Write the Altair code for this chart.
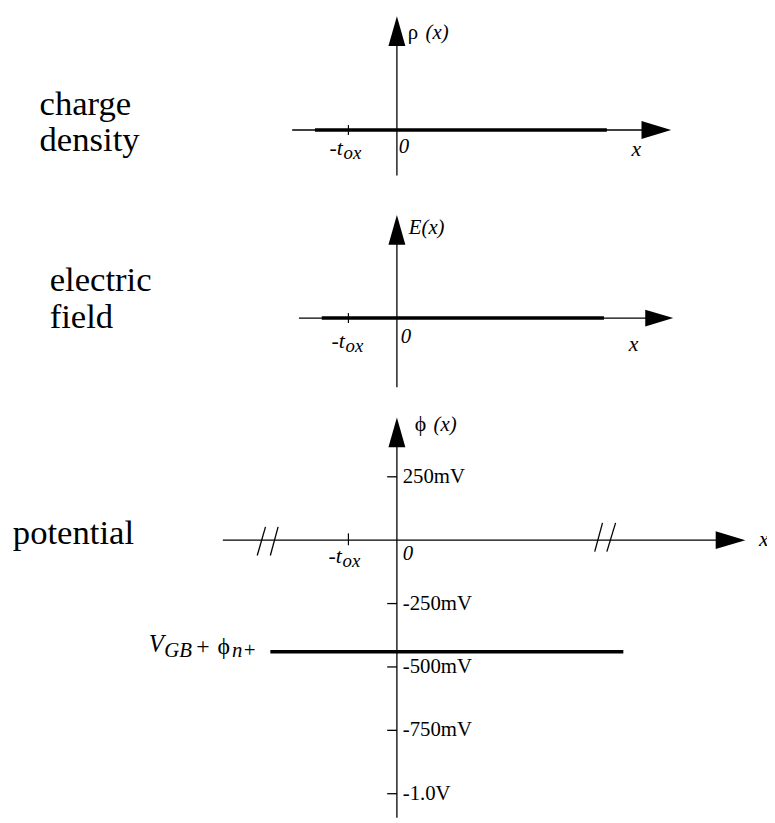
import altair as alt
import pandas as pd

# ---------------- layout (pixels of the drawing area) ----------------
W, H = 767, 815
PX_PER_TOX = 49.0
ZERO_X_PX = 393.0
X_DOMAIN = [-ZERO_X_PX / PX_PER_TOX, (W - ZERO_X_PX) / PX_PER_TOX]

def y_domain(zero_px, px_per_unit):
    return [-(H - zero_px) / px_per_unit, zero_px / px_per_unit]

P1_DOM = y_domain(119.0, 10.0)      # charge density, arbitrary units
P2_DOM = y_domain(309.0, 10.0)      # electric field, arbitrary units
P3_DOM = y_domain(533.5, 0.2562)    # potential, mV

SERIF = "Liberation Serif, Times New Roman, Times, serif"
UP_ARROW = "M0,-1L0.57,1L-0.57,1Z"
RIGHT_ARROW = "M1,0L-1,0.6L-1,-0.6Z"

# ---------------- data (x in units of t_ox) ----------------
T_OX = -1.0

# charge density panel
rho_axis_x = [-2.16, 5.35]
rho_axis_y = [-4.6, 10.0]
rho_x = [-1.69, 4.33]
rho_val = [0.0, 0.0]

# electric field panel
e_axis_x = [-2.02, 5.41]
e_axis_y = [-7.0, 8.9]
e_x = [-1.55, 4.27]
e_val = [0.0, 0.0]

# potential panel (mV)
phi_axis_x = [-3.59, 6.88]
phi_axis_y = [-1095.0, 425.5]
phi_ticks = [250, -250, -500, -750, -1000]
phi_tick_labels = ["250mV", "-250mV", "-500mV", "-750mV", "-1.0V"]
v_level_mV = -440.0
v_x = [-2.61, 4.67]
break_x0 = [-2.88, -2.61, 4.08, 4.33]
break_x1 = [-2.71, -2.45, 4.24, 4.51]
break_y0 = [-60.5, -60.5, -44.9, -44.9]
break_y1 = [52.7, 52.7, 68.3, 68.3]


def xs():
    return alt.Scale(domain=X_DOMAIN, nice=False, zero=False)


def ys(d):
    return alt.Scale(domain=d, nice=False, zero=False)


def hrule(x0, x1, y, dom, sw):
    df = pd.DataFrame({"x0": x0, "x1": x1, "y": y})
    return alt.Chart(df).mark_rule(strokeWidth=sw, color="black").encode(
        x=alt.X("x0:Q", scale=xs(), axis=None), x2="x1:Q",
        y=alt.Y("y:Q", scale=ys(dom), axis=None))


def vrule(x, y0, y1, dom, sw):
    df = pd.DataFrame({"x": x, "y0": y0, "y1": y1})
    return alt.Chart(df).mark_rule(strokeWidth=sw, color="black").encode(
        x=alt.X("x:Q", scale=xs(), axis=None),
        y=alt.Y("y0:Q", scale=ys(dom), axis=None), y2="y1:Q")


def drule(x0, x1, y0, y1, dom, sw):
    df = pd.DataFrame({"x0": x0, "x1": x1, "y0": y0, "y1": y1})
    return alt.Chart(df).mark_rule(strokeWidth=sw, color="black").encode(
        x=alt.X("x0:Q", scale=xs(), axis=None), x2="x1:Q",
        y=alt.Y("y0:Q", scale=ys(dom), axis=None), y2="y1:Q")


def arrow(x, y, dom, shape, size=900):
    df = pd.DataFrame({"x": [x], "y": [y]})
    return alt.Chart(df).mark_point(shape=shape, size=size, filled=True,
                                    opacity=1, color="black", strokeWidth=0).encode(
        x=alt.X("x:Q", scale=xs(), axis=None),
        y=alt.Y("y:Q", scale=ys(dom), axis=None))


def text(x, y, t, dom, size, italic=False, baseline="alphabetic", align="left"):
    df = pd.DataFrame({"x": x, "y": y, "t": t})
    return alt.Chart(df).mark_text(align=align, baseline=baseline, fontSize=size,
                                   font=SERIF, color="black",
                                   fontStyle="italic" if italic else "normal").encode(
        x=alt.X("x:Q", scale=xs(), axis=None),
        y=alt.Y("y:Q", scale=ys(dom), axis=None),
        text="t:N")


layers = []

# ---- panel 1: charge density ----
D = P1_DOM
layers += [
    hrule([rho_axis_x[0]], [rho_axis_x[1]], [0.0], D, 1.3),
    vrule([0.0], [rho_axis_y[0]], [rho_axis_y[1]], D, 1.3),
    arrow(0.0, rho_axis_y[1], D, UP_ARROW),
    arrow(rho_axis_x[1], 0.0, D, RIGHT_ARROW),
    hrule([rho_x[0]], [rho_x[1]], [rho_val[0]], D, 3.5),
    vrule([T_OX], [-0.5], [0.5], D, 1.2),
    text([0.224], [9.2], ["ρ"], D, 21),
    text([0.59], [9.2], ["(x)"], D, 21, italic=True),
    text([-1.39], [-2.5], ["-t"], D, 22, italic=True),
    text([-1.1], [-2.9], ["ox"], D, 19, italic=True),
    text([0.04], [-2.3], ["0"], D, 21, italic=True),
    text([4.84], [-2.6], ["x"], D, 22, italic=True),
    text([-7.37, -7.37], [1.5, -2.1], ["charge", "density"], D, 35),
]

# ---- panel 2: electric field ----
D = P2_DOM
layers += [
    hrule([e_axis_x[0]], [e_axis_x[1]], [0.0], D, 1.3),
    vrule([0.0], [e_axis_y[0]], [e_axis_y[1]], D, 1.3),
    arrow(0.0, e_axis_y[1], D, UP_ARROW),
    arrow(e_axis_x[1], 0.0, D, RIGHT_ARROW, size=800),
    hrule([e_x[0]], [e_x[1]], [e_val[0]], D, 3.5),
    vrule([T_OX], [-0.5], [0.5], D, 1.2),
    text([0.245], [8.5], ["E(x)"], D, 21, italic=True),
    text([-1.35], [-3.0], ["-t"], D, 22, italic=True),
    text([-1.06], [-3.4], ["ox"], D, 19, italic=True),
    text([0.08], [-2.5], ["0"], D, 21, italic=True),
    text([4.78], [-3.3], ["x"], D, 22, italic=True),
    text([-7.16, -7.16], [2.7, -1.0], ["electric", "field"], D, 35),
]

# ---- panel 3: potential ----
D = P3_DOM
layers += [
    hrule([phi_axis_x[0]], [phi_axis_x[1]], [0.0], D, 1.3),
    vrule([0.0], [phi_axis_y[0]], [phi_axis_y[1]], D, 1.3),
    arrow(0.0, phi_axis_y[1], D, UP_ARROW),
    arrow(phi_axis_x[1], 0.0, D, RIGHT_ARROW),
    drule(break_x0, break_x1, break_y0, break_y1, D, 1.3),
    vrule([T_OX], [27.0], [-20.0], D, 1.2),
    hrule([-0.2] * len(phi_ticks), [0.0] * len(phi_ticks), phi_ticks, D, 1.3),
    text([0.12] * len(phi_ticks), phi_ticks, phi_tick_labels, D, 21, baseline="middle"),
    hrule([v_x[0]], [v_x[1]], [v_level_mV], D, 3.5),
    text([0.367], [431.3], ["ϕ"], D, 22),
    text([0.755], [431.3], ["(x)"], D, 21, italic=True),
    text([-1.41], [-91.7], ["-t"], D, 22, italic=True),
    text([-1.12], [-107.3], ["ox"], D, 19, italic=True),
    text([0.12], [-80.0], ["0"], D, 21, italic=True),
    text([7.47], [-21.5], ["x"], D, 22, italic=True),
    text([-7.92], [-13.7], ["potential"], D, 35),
    text([-5.12], [-443.0], ["V"], D, 25, italic=True),
    text([-4.8], [-462.5], ["GB"], D, 21, italic=True),
    text([-4.14], [-447.0], ["+"], D, 24),
    text([-3.7], [-447.0], ["ϕ"], D, 24),
    text([-3.4], [-462.5], ["n+"], D, 21, italic=True),
]

chart = alt.layer(*layers).resolve_scale(y="independent").properties(
    width=W, height=H,
    autosize=alt.AutoSizeParams(type="none"),
    padding=0,
).configure_view(stroke=None)

chart.save("out.html", embed_options={"renderer": "svg", "actions": False})
